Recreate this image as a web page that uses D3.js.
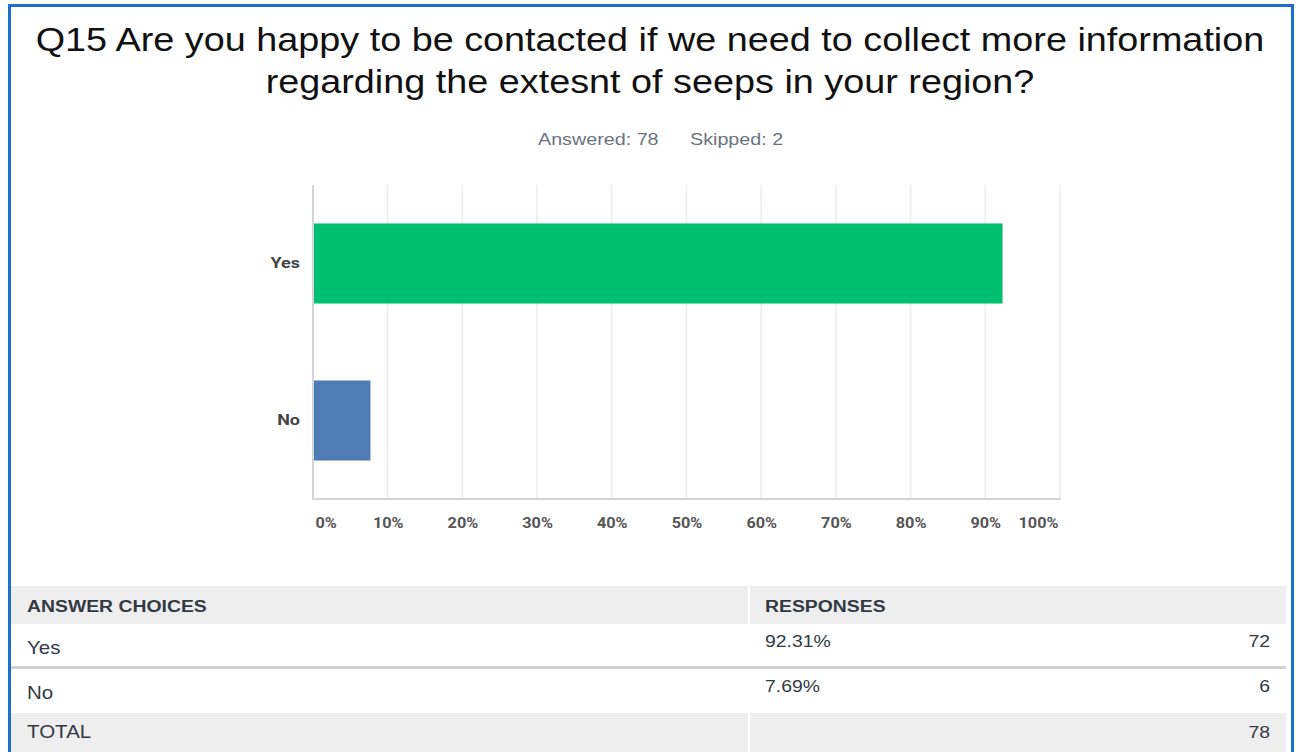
<!DOCTYPE html>
<html>
<head>
<meta charset="utf-8">
<script src="https://cdn.jsdelivr.net/npm/d3@7"></script>
<style>
  html, body { margin: 0; padding: 0; background: #fff; }
  svg { display: block; }
</style>
</head>
<body>
<svg id="chart" width="1296" height="752"></svg>
<script>
// Survey question and response data
const titleLines = [
  "Q15 Are you happy to be contacted if we need to collect more information",
  "regarding the extesnt of seeps in your region?"
];
const answered = 78;
const skipped = 2;
const categories = ["Yes", "No"];
const percents = [92.31, 7.69];
const counts = [72, 6];
const barColors = ["#00bf6f", "#507cb6"];
const tickValues = [0, 10, 20, 30, 40, 50, 60, 70, 80, 90, 100];

const svg = d3.select("#chart");
const W = 1296, H = 752;
const SX = 1.16; // horizontal stretch of the page typography

// Places a text at (x, y) with a horizontal stretch applied around its anchor
function placeText(parent, x, y, str, k) {
  return parent.append("text")
    .attr("transform", `translate(${x},${y}) scale(${k},1)`)
    .text(str);
}

// Frame
svg.append("rect").attr("x", 0).attr("y", 0).attr("width", W).attr("height", H).attr("fill", "#fff");
svg.append("path")
  .attr("d", "M9.5,760 L9.5,5.5 L1292.5,5.5 L1292.5,760")
  .attr("fill", "none").attr("stroke", "#1d6fcb").attr("stroke-width", 3);

// Title
const title = svg.append("g")
  .attr("text-anchor", "middle")
  .attr("font-family", "Liberation Sans, Arial, sans-serif")
  .attr("font-size", 33)
  .attr("fill", "#111");
titleLines.forEach((t, i) => placeText(title, 650, 51 + i * 42, t, 1.145));

// Answered / skipped
const sub = svg.append("g")
  .attr("font-family", "Liberation Sans, Arial, sans-serif")
  .attr("font-size", 17).attr("fill", "#6b7380");
placeText(sub, 538, 145, "Answered: " + answered, SX);
placeText(sub, 690, 145, "Skipped: " + skipped, SX);

// Chart area
const plot = { left: 313, right: 1060, top: 185, bottom: 499 };
const x = d3.scaleLinear().domain([0, 100]).range([plot.left, plot.right]);
const y = d3.scaleBand().domain(categories).range([plot.top, plot.bottom]).paddingInner(0.49).paddingOuter(0.245);

// Gridlines
svg.append("g").selectAll("line").data(tickValues.slice(1)).join("line")
  .attr("x1", d => x(d)).attr("x2", d => x(d))
  .attr("y1", plot.top).attr("y2", plot.bottom)
  .attr("stroke", "#ececec").attr("stroke-width", 1.5);

// Bars
svg.append("g").selectAll("rect").data(categories).join("rect")
  .attr("x", x(0))
  .attr("y", d => y(d))
  .attr("width", (d, i) => x(percents[i]) - x(0))
  .attr("height", y.bandwidth())
  .attr("fill", (d, i) => barColors[i]);

// Axis lines
svg.append("line").attr("x1", plot.left).attr("x2", plot.left)
  .attr("y1", plot.top).attr("y2", plot.bottom + 1)
  .attr("stroke", "#d4d4d4").attr("stroke-width", 2);
svg.append("line").attr("x1", plot.left).attr("x2", plot.right + 1)
  .attr("y1", plot.bottom).attr("y2", plot.bottom)
  .attr("stroke", "#d4d4d4").attr("stroke-width", 2);

// X axis tick labels (first and last kept inside the plot edges)
const xAxis = svg.append("g")
  .attr("transform", `translate(0,${plot.bottom})`)
  .call(d3.axisBottom(x).tickValues(tickValues).tickFormat(d => d + "%").tickSize(0).tickPadding(0));
xAxis.select(".domain").remove();
xAxis.selectAll("text")
  .attr("font-family", "Roboto, 'Open Sans', sans-serif")
  .attr("font-weight", "bold").attr("font-size", 14).attr("fill", "#555")
  .attr("dy", 0).attr("y", 0)
  .attr("text-anchor", d => d === 0 ? "start" : d === 100 ? "end" : "middle")
  .attr("transform", d => `translate(${d === 0 ? 2 : d === 100 ? -2 : 0},29) scale(${SX},1)`);

// Y axis category labels
const yAxis = svg.append("g")
  .attr("transform", `translate(${plot.left},0)`)
  .call(d3.axisLeft(y).tickSize(0).tickPadding(0));
yAxis.select(".domain").remove();
yAxis.selectAll("text")
  .attr("font-family", "Roboto, 'Open Sans', sans-serif")
  .attr("font-weight", "bold").attr("font-size", 15).attr("fill", "#444")
  .attr("x", 0)
  .attr("transform", `translate(-13,0) scale(1.2,1)`);

// Response table
const tbl = svg.append("g").attr("font-family", "Liberation Sans, Arial, sans-serif").attr("fill", "#333a44");
const tLeft = 11, tRight = 1286, colSplit = 748;
const TK = 1.14;
// header row
tbl.append("rect").attr("x", tLeft).attr("y", 586).attr("width", colSplit - tLeft).attr("height", 38).attr("fill", "#eeeeee");
tbl.append("rect").attr("x", colSplit + 2).attr("y", 586).attr("width", tRight - colSplit - 2).attr("height", 38).attr("fill", "#eeeeee");
placeText(tbl, 27, 612, "ANSWER CHOICES", TK).attr("font-size", 17).attr("font-weight", "bold");
placeText(tbl, 765, 612, "RESPONSES", TK).attr("font-size", 17).attr("font-weight", "bold");

// data rows
const rowTops = [624, 669];
categories.forEach((c, i) => {
  const top = rowTops[i];
  placeText(tbl, 27, top + 30, c, TK).attr("font-size", 18);
  placeText(tbl, 765, top + 23, percents[i].toFixed(2) + "%", TK).attr("font-size", 17);
  placeText(tbl, 1270, top + 23, counts[i], TK).attr("text-anchor", "end").attr("font-size", 17);
});
// separator between rows
tbl.append("rect").attr("x", tLeft).attr("y", 666).attr("width", tRight - tLeft).attr("height", 3).attr("fill", "#d2d2d2");

// total row
tbl.append("rect").attr("x", tLeft).attr("y", 713).attr("width", colSplit - tLeft).attr("height", 39).attr("fill", "#eeeeee");
tbl.append("rect").attr("x", colSplit + 2).attr("y", 713).attr("width", tRight - colSplit - 2).attr("height", 39).attr("fill", "#eeeeee");
placeText(tbl, 27, 738, "TOTAL", TK).attr("font-size", 18);
placeText(tbl, 1270, 738, d3.sum(counts), TK).attr("text-anchor", "end").attr("font-size", 17);
</script>
</body>
</html>
